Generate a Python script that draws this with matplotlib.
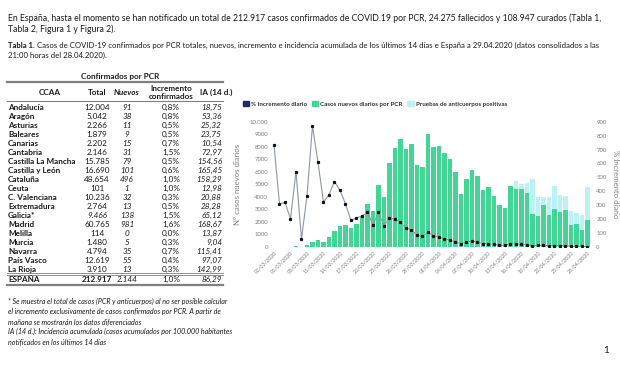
import matplotlib
matplotlib.use('Agg')
import matplotlib.pyplot as plt
from matplotlib.patches import Patch
import pandas as pd

plt.rcParams['font.family'] = ['Lato', 'DejaVu Sans']

W, H = 620, 368

# ---- Tabla 1 ----
ccaa = ['Andalucía', 'Aragón', 'Asturias', 'Baleares', 'Canarias', 'Cantabria',
        'Castilla La Mancha', 'Castilla y León', 'Cataluña', 'Ceuta', 'C. Valenciana',
        'Extremadura', 'Galicia*', 'Madrid', 'Melilla', 'Murcia', 'Navarra',
        'País Vasco', 'La Rioja']
total = ['12.004', '5.042', '2.266', '1.879', '2.202', '2.146', '15.785', '16.690',
         '48.654', '101', '10.236', '2.764', '9.466', '60.765', '114', '1.480',
         '4.794', '12.619', '3.910']
nuevos = ['91', '38', '11', '9', '15', '31', '79', '101', '496', '1', '32', '13',
          '138', '981', '0', '5', '35', '55', '13']
incremento = ['0,8%', '0,8%', '0,5%', '0,5%', '0,7%', '1,5%', '0,5%', '0,6%', '1,0%',
              '1,0%', '0,3%', '0,5%', '1,5%', '1,6%', '0,0%', '0,3%', '0,7%', '0,4%',
              '0,3%']
ia14 = ['18,75', '53,36', '25,32', '23,75', '10,54', '72,97', '154,56', '165,45',
        '158,29', '12,98', '20,88', '28,28', '65,12', '168,67', '13,87', '9,04',
        '115,41', '97,07', '142,99']
fila_espana = ['ESPAÑA', '212.917', '2.144', '1,0%', '86,29']

# ---- Figura: casos diarios ----
fechas = pd.date_range('2020-03-02', '2020-04-28').strftime('%d/%m/%Y').tolist()
casos_pcr = [10, 20, 25, 30, 80, 30, 120, 370, 530, 420,
             770, 1300, 1640, 1780, 1490, 1860, 2390, 3400, 2840, 4960,
             3980, 6740, 7880, 8590, 7820, 8200, 6550, 6370, 9020, 7960,
             8090, 7480, 7000, 6020, 4240, 5440, 6150, 5700, 4510, 4770,
             4110, 3320, 3100, 4880, 4620, 4620, 4300, 2630, 2490, 3320,
             2570, 3050, 2790, 2920, 1780, 1860, 1330, 2180]
anticuerpos = [0] * 44 + [680, 420, 790, 2780, 1490, 660, 1410, 1830, 1370, 1160,
                          1060, 850, 1240, 2570]
incremento_diario = [733, 308, 320, 203, 542, 57, 368, 869, 609, 322,
                     375, 470, 406, 310, 191, 208, 224, 248, 160, 248,
                     153, 208, 200, 177, 136, 124, 84, 76, 105, 81,
                     72, 60, 48, 36, 24, 36, 41, 36, 24, 24,
                     19, 12, 12, 24, 21, 21, 17, 10, 12, 12,
                     10, 10, 10, 10, 5, 5, 5, 2]
yticks_izq = [0, 1000, 2000, 3000, 4000, 5000, 6000, 7000, 8000, 9000, 10000]
yticklabels_izq = ['0', '1000', '2000', '3000', '4000', '5000', '6000', '7000',
                   '8000', '9000', '10.000']
yticks_der = [0, 100, 200, 300, 400, 500, 600, 700, 800, 900]


def fx(x):
    return x / W


def fy(y):
    return 1 - y / H


fig = plt.figure(figsize=(6.2, 3.68), dpi=100)


def txt(x, y, s, **kw):
    # y = centro aproximado de la línea; se dibuja sobre la línea base
    kw.setdefault('fontsize', 5.9)
    kw.setdefault('color', '#1a1a1a')
    fig.text(fx(x), fy(y + kw['fontsize'] * 0.45), s, va='baseline', **kw)


def hline(y, x0, x1, lw=0.6, color='#7f7f7f'):
    fig.add_artist(plt.Line2D([fx(x0), fx(x1)], [fy(y), fy(y)], lw=lw, color=color,
                              transform=fig.transFigure))


# texto de cabecera
txt(8, 18, 'En España, hasta el momento se han notificado un total de 212.917 casos '
    'confirmados de COVID.19 por PCR, 24.275 fallecidos y 108.947 curados (Tabla 1,',
    fontsize=6.25)
txt(8, 29, 'Tabla 2, Figura 1 y Figura 2).', fontsize=6.25)
txt(8, 45, 'Tabla 1.', fontsize=5.6, weight='bold')
txt(37, 45, 'Casos de COVID-19 confirmados por PCR totales, nuevos, incremento e incidencia '
    'acumulada de los últimos 14 días e España a 29.04.2020 (datos consolidados a las',
    fontsize=5.6)
txt(8, 55, '21:00 horas del 28.04.2020).', fontsize=5.6)

# tabla
txt(120, 76, 'Confirmados por PCR', ha='center', weight='bold')
hline(82, 7, 223, lw=1.6)
txt(50, 92, 'CCAA', ha='center', weight='bold')
txt(97, 92, 'Total', ha='center', weight='bold')
txt(127, 92, 'Nuevos', ha='center', weight='bold', style='italic')
txt(171, 88, 'Incremento', ha='center', weight='bold')
txt(171, 96, 'confirmados', ha='center', weight='bold')
txt(200, 92, 'IA (14 d.)', ha='left', weight='bold')
hline(101, 7, 223, lw=0.8)
for i in range(len(ccaa)):
    y = 107 + 9 * i
    txt(8, y, ccaa[i], weight='bold')
    txt(97, y, total[i], ha='center', style='italic' if ccaa[i] == 'Galicia*' else 'normal')
    txt(127, y, nuevos[i], ha='center', style='italic')
    txt(171, y, incremento[i], ha='center')
    txt(222, y, ia14[i], ha='right', style='italic')
hline(272.5, 7, 223, lw=0.6)
hline(274.5, 7, 223, lw=0.6)
y = 279
txt(8, y, fila_espana[0], weight='bold')
txt(97, y, fila_espana[1], ha='center', weight='bold')
txt(127, y, fila_espana[2], ha='center', style='italic')
txt(171, y, fila_espana[3], ha='center')
txt(222, y, fila_espana[4], ha='right', style='italic')
hline(284.5, 7, 223, lw=1.6)

# notas
notas = ['* Se muestra el total de casos (PCR y anticuerpos) al no ser posible calcular',
         'el incremento exclusivamente de casos confirmados por PCR. A partir de',
         'mañana se mostrarán los datos diferenciados',
         'IA (14 d.): Incidencia acumulada (casos acumulados por 100.000 habitantes',
         'notificados en los últimos 14 días']
for i, n in enumerate(notas):
    txt(8, 302 + 10 * i, n, fontsize=5.1, style='italic')

txt(603, 350, '1', fontsize=7)

# ---- gráfico ----
verde = '#43d596'
cian = '#bdf2f5'
gris = '#7f7f7f'
x = list(range(len(fechas)))
ax = fig.add_axes([fx(270.7), fy(247), 320 / W, 125.3 / H])
ax.bar(x, casos_pcr, width=0.82, color=verde)
ax.bar(x, anticuerpos, bottom=casos_pcr, width=0.82, color=cian)
ax.set_xlim(-0.6, len(fechas) - 0.4)
ax.set_ylim(0, 10000)
ax.set_yticks(yticks_izq)
ax.set_yticklabels(yticklabels_izq)
ax.set_xticks(x[::3])
ax.set_xticklabels(fechas[::3], rotation=45, ha='right', rotation_mode='anchor')
ax.tick_params(axis='both', length=0, labelsize=4.3, labelcolor=gris, pad=2)
ax.tick_params(axis='x', labelsize=3.9)
for s in ax.spines.values():
    s.set_visible(False)
ax.set_ylabel('Nº casos nuevos diarios', fontsize=5.6, color=gris, labelpad=6)

ax2 = ax.twinx()
ax2.plot(x, incremento_diario, color='#8c96a8', lw=0.8, marker='s', ms=1.3,
         mfc='#111111', mec='#111111')
ax2.set_ylim(0, 900)
ax2.set_yticks(yticks_der)
ax2.tick_params(axis='y', length=0, labelsize=4.3, labelcolor=gris, pad=4)
for s in ax2.spines.values():
    s.set_visible(False)
ax2.set_ylabel('% Incremento diario', fontsize=5.6, color=gris, rotation=-90, labelpad=9)

handles = [Patch(color='#1f2d5c'), Patch(color=verde), Patch(color=cian)]
labels = ['% Incremento diario', 'Casos nuevos diarios por PCR',
          'Pruebas de anticuerpos positivas']
fig.legend(handles, labels, loc='center left', bbox_to_anchor=(fx(243), fy(104)),
           ncol=3, frameon=False, handlelength=1.0, handleheight=0.7,
           columnspacing=0.7, handletextpad=0.35, borderaxespad=0, borderpad=0,
           labelcolor='#333333', prop={'weight': 'bold', 'size': 4.5})

fig.savefig('out.png', dpi=100)
